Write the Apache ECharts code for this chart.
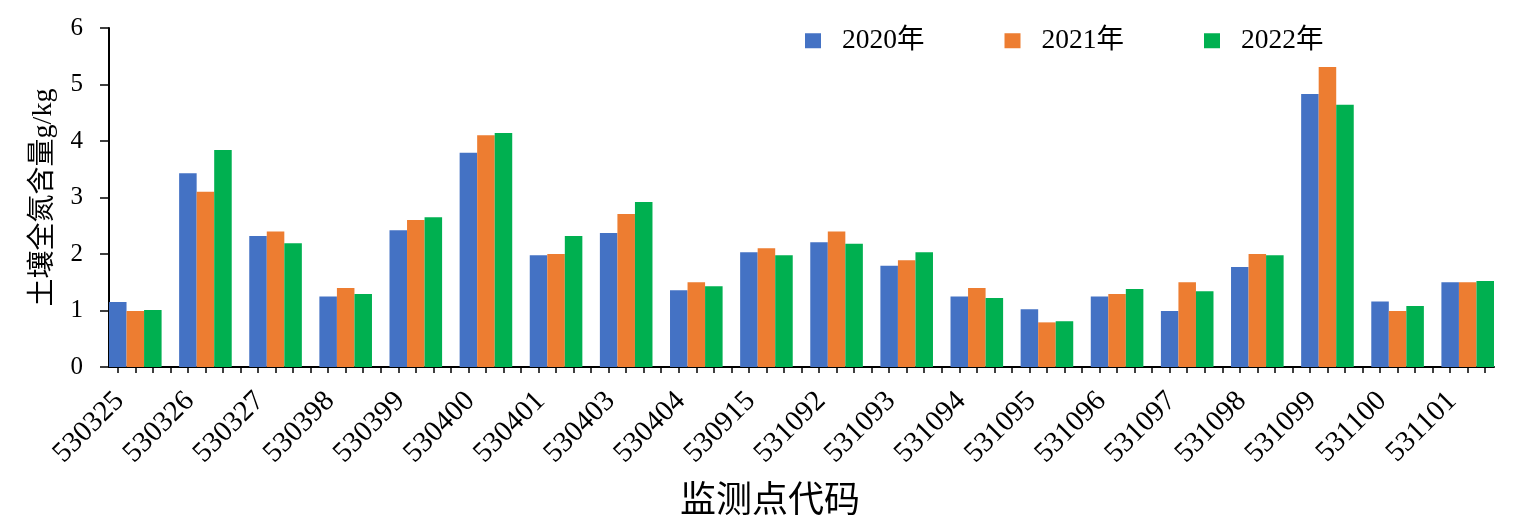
<!DOCTYPE html>
<html>
<head>
<meta charset="utf-8">
<script src="https://cdn.jsdelivr.net/npm/echarts@6/dist/echarts.min.js"></script>
<style>
html,body{margin:0;padding:0;background:#fff;}
#chart{width:1520px;height:532px;}
</style>
</head>
<body>
<div id="chart"></div>
<script>
const stations = ['530325','530326','530327','530398','530399','530400','530401','530403','530404','530915',
                  '531092','531093','531094','531095','531096','531097','531098','531099','531100','531101'];
const seriesNames = ['2020年','2021年','2022年'];
const v2020 = [1.15,3.43,2.32,1.25,2.42,3.79,1.98,2.37,1.36,2.03,2.21,1.79,1.25,1.02,1.25,0.99,1.77,4.83,1.16,1.50];
const v2021 = [0.99,3.10,2.40,1.40,2.60,4.10,2.00,2.71,1.50,2.10,2.40,1.89,1.40,0.79,1.29,1.50,2.00,5.31,0.99,1.50];
const v2022 = [1.01,3.84,2.19,1.29,2.65,4.14,2.32,2.92,1.43,1.98,2.18,2.03,1.22,0.81,1.38,1.34,1.98,4.64,1.08,1.52];
const yTicks = [0,1,2,3,4,5,6];
const colors = ['#4472C4','#ED7D31','#00B050'];

// each station occupies 4 slots: three bars and a gap
const SLOTS = 4;
const slotLabels = [];
stations.forEach(s => { slotLabels.push('', s, '', ''); });
function slotData(vals, k) {
  const out = [];
  vals.forEach(v => { for (let j = 0; j < SLOTS; j++) out.push(j === k ? v : '-'); });
  return out;
}
const allVals = [v2020, v2021, v2022];

const serif = '"Liberation Serif", "Noto Sans CJK SC", serif';
const chart = echarts.init(document.getElementById('chart'), null, {renderer: 'canvas'});
chart.setOption({
  animation: false,
  backgroundColor: '#ffffff',
  legend: {
    top: 27, left: 805, padding: 0,
    itemWidth: 16, itemHeight: 15, itemGap: 80,
    icon: 'rect',
    textStyle: {fontFamily: serif, fontSize: 27.5, color: '#000', padding: [0,0,0,16]},
    data: seriesNames
  },
  grid: {left: 109, right: 26, top: 28, bottom: 165, containLabel: false},
  xAxis: {
    type: 'category',
    data: slotLabels,
    max: slotLabels.length - 2,
    boundaryGap: true,
    axisLine: {lineStyle: {color: '#000', width: 2}},
    axisTick: {show: true, alignWithLabel: true, interval: 0, length: 6, lineStyle: {color: '#000', width: 1.5}},
    axisLabel: {
      interval: (i) => i % SLOTS === 1,
      rotate: 45, margin: 14,
      fontFamily: serif, fontSize: 29, color: '#000',
      padding: [0, 22, 0, 0]
    },
    name: '监测点代码',
    nameLocation: 'middle',
    nameGap: 113,
    nameTextStyle: {fontFamily: '"Noto Sans CJK SC", sans-serif', fontSize: 36, color: '#000', padding: [0, 63, 0, 0]},
    splitLine: {show: false}
  },
  yAxis: {
    type: 'value',
    min: yTicks[0], max: yTicks[yTicks.length-1], interval: 1,
    axisLine: {show: true, lineStyle: {color: '#000', width: 2}},
    axisTick: {show: true, length: 9, lineStyle: {color: '#000', width: 1.5}},
    axisLabel: {margin: 26, fontFamily: serif, fontSize: 25, color: '#000'},
    splitLine: {show: false},
    name: '土壤全氮含量g/kg',
    nameLocation: 'middle',
    nameRotate: 90,
    nameGap: 51,
    nameTextStyle: {fontFamily: serif, fontSize: 28, color: '#000'}
  },
  series: seriesNames.map((n, k) => ({
    name: n,
    type: 'bar',
    data: slotData(allVals[k], k),
    barGap: '-100%',
    barCategoryGap: '0%',
    itemStyle: {color: colors[k]}
  }))
});
</script>
</body>
</html>
